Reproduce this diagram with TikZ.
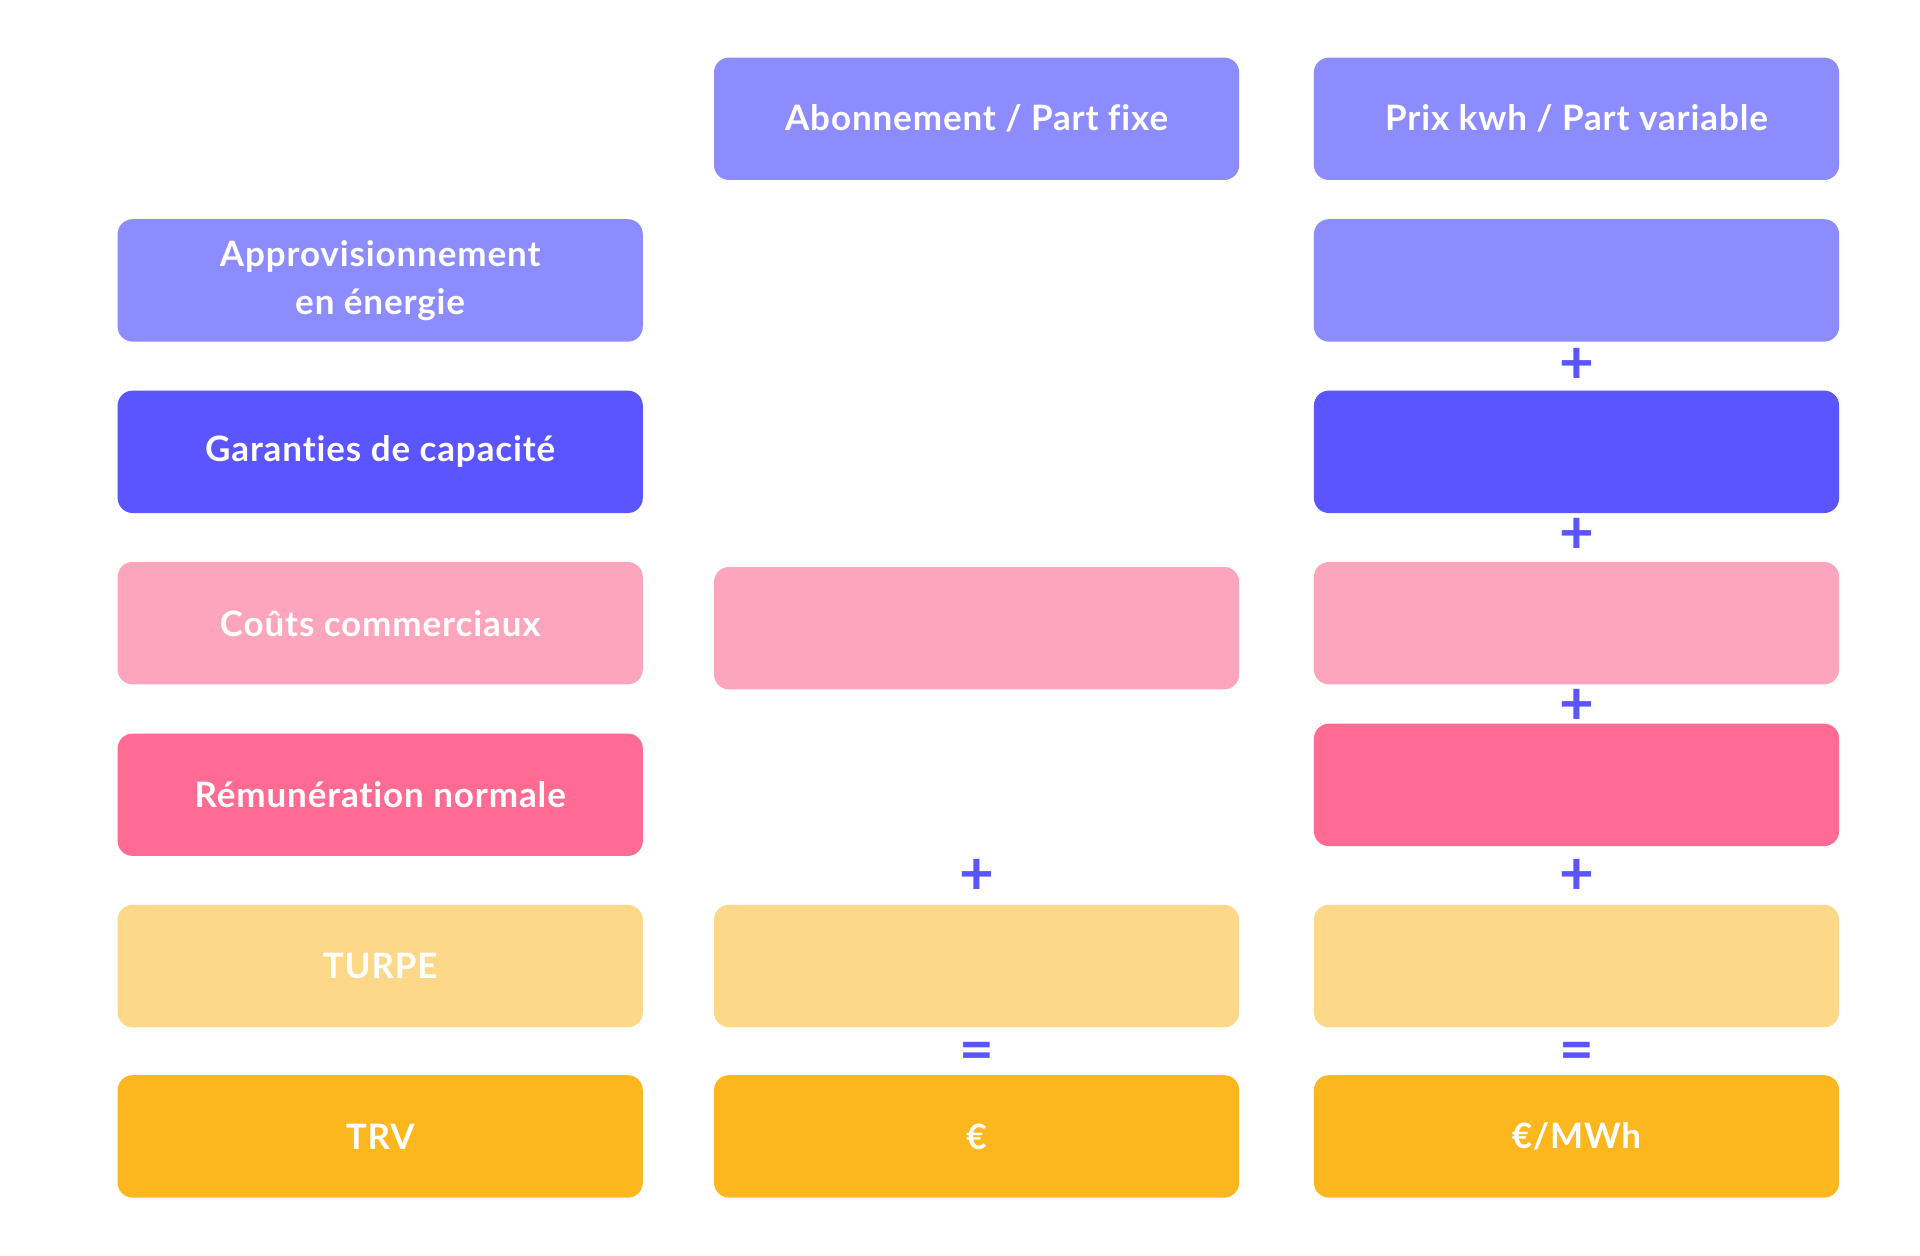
\documentclass[tikz,border=0pt]{standalone}
\usepackage{fontspec}
\setmainfont{Lato}[Ligatures=NoCommon, LetterSpace=2.5]
\definecolor{lpurple}{HTML}{8C8CFF}
\definecolor{dblue}{HTML}{5A55FF}
\definecolor{lpink}{HTML}{FDA5BC}
\definecolor{dpink}{HTML}{FF6B93}
\definecolor{lyellow}{HTML}{FDD888}
\definecolor{dyellow}{HTML}{FDB71E}
\pgfdeclarelayer{bg}
\pgfsetlayers{bg,main}
\tikzset{
  card/.style={rectangle, rounded corners=7.5pt, minimum width=262.6pt, minimum height=61.2pt,
    text=white, align=center, inner sep=0pt,
    font=\fontsize{17.5}{24}\selectfont\bfseries},
  op/.style={text=dblue, inner sep=0pt, font=\fontsize{30}{30}\selectfont\bfseries},
  shadowlayer/.style={fill=black, opacity=0.028}
}
\begin{document}
\begin{tikzpicture}[x=0.5pt,y=-0.5pt]
\useasboundingbox[fill=white] (0,0) rectangle (1920,1256);
% headers
\node[card, fill=lpurple] (h2) at (976.6,118.8) {Abonnement / Part fixe};
\node[card, fill=lpurple] (h3) at (1576.5,118.8) {Prix kwh / Part variable};
% row 1
\node[card, fill=lpurple] (a1) at (380.2,280.4) {Approvisionnement\\en énergie};
\node[card, fill=lpurple] (a3) at (1576.5,280.4) {};
% row 2
\node[card, fill=dblue] (g1) at (380.2,451.8) {Garanties de capacité};
\node[card, fill=dblue] (g3) at (1576.5,451.8) {};
% row 3
\node[card, fill=lpink] (c1) at (380.2,623.2) {Coûts commerciaux};
\node[card, fill=lpink] (c2) at (976.6,628.2) {};
\node[card, fill=lpink] (c3) at (1576.5,623.2) {};
% row 4
\node[card, fill=dpink] (r1) at (380.2,794.7) {Rémunération normale};
\node[card, fill=dpink] (r3) at (1576.5,784.9) {};
% row 5
\node[card, fill=lyellow] (t1) at (380.2,966.1) {TURPE};
\node[card, fill=lyellow] (t2) at (976.6,966.1) {};
\node[card, fill=lyellow] (t3) at (1576.5,966.1) {};
% row 6
\node[card, fill=dyellow] (v1) at (380.2,1136.4) {TRV};
\node[card, fill=dyellow] (v2) at (976.6,1136.4) {€};
\node[card, fill=dyellow] (v3) at (1576.5,1136.4) {€/MWh};
% operators
\node[op] (p1) at (1576.5,366) {+};
\node[op] (p2) at (1576.5,536) {+};
\node[op] (p3) at (1576.5,706.5) {+};
\node[op] (p4) at (1576.5,876.5) {+};
\node[op] (p5) at (976.6,876.5) {+};
\node[op] (e1) at (976.6,1056) {=};
\node[op] (e2) at (1576.5,1056) {=};
% soft shadows
\begin{pgfonlayer}{bg}
\foreach \n in {h2,h3,a1,a3,g1,g3,c1,c2,c3,r1,r3,t1,t2,t3,v1,v2,v3}{
  \foreach \i in {1,...,12}{
    \fill[shadowlayer, rounded corners=7.5pt+0.5*\i pt]
      ([shift={(-\i,-\i+4)}]\n.north west) rectangle ([shift={(\i,\i+4)}]\n.south east);
  }
}
\end{pgfonlayer}
\end{tikzpicture}
\end{document}
